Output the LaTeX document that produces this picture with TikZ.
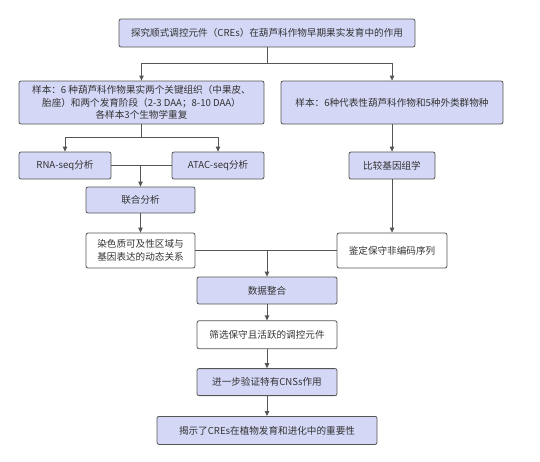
\documentclass[tikz,border=0pt]{standalone}
\usepackage{fontspec}
\setmainfont{Noto Sans CJK SC}
\usepackage{xcolor}
\usetikzlibrary{positioning}
\usetikzlibrary{arrows.meta}
\definecolor{boxfill}{HTML}{D4D7F6}
\definecolor{boxline}{HTML}{555555}
\definecolor{boxtext}{HTML}{333333}
\tikzset{flowbox/.style={draw=boxline, fill=boxfill, line width=0.8pt,
rounded corners=2pt, align=center, inner sep=0pt, text=boxtext,
font=\fontsize{9.6}{12.5}\selectfont},
plainbox/.style={flowbox, fill=white},
flowarr/.style={draw=boxline, line width=0.8pt, -{Triangle[length=5pt,width=4.5pt]}},
flowline/.style={draw=boxline, line width=0.8pt}}

\begin{document}
\begin{tikzpicture}[x=1pt, y=1pt]
				\useasboundingbox (0,0) rectangle (540,-461);

				\node[flowbox, minimum width=296, minimum height=28] (top) at (267,-33) {探究顺式调控元件（CREs）在葫芦科作物早期果实发育中的作用};
				\node[flowbox, minimum width=245, minimum height=43] (sampL) at (141.5,-102.5)
					{样本：6 种葫芦科作物果实两个关键组织（中果皮、\\胎座）和两个发育阶段（2-3 DAA；8-10 DAA）\\各样本3个生物学重复};
				\node[flowbox, minimum width=222, minimum height=43] (sampR) at (392,-102.5) {样本：6种代表性葫芦科作物和5种外类群物种};
				\node[flowbox, minimum width=92, minimum height=27] (rna) at (65,-165.5) {RNA-seq分析};
				\node[flowbox, minimum width=92, minimum height=27] (atac) at (218,-165.5) {ATAC-seq分析};
				\node[flowbox, minimum width=86, minimum height=27] (comp) at (392,-165.5) {比较基因组学};
				\node[flowbox, minimum width=109, minimum height=26] (joint) at (140.5,-200) {联合分析};
				\node[plainbox, minimum width=109, minimum height=35] (chrom) at (140.5,-250.5) {染色质可及性区域与\\基因表达的动态关系};
				\node[plainbox, minimum width=110, minimum height=35] (cons) at (392,-250.5) {鉴定保守非编码序列};
				\node[flowbox, minimum width=140, minimum height=27] (integ) at (267,-290.5) {数据整合};
				\node[plainbox, minimum width=140, minimum height=28, below=16 of integ] (screen) {筛选保守且活跃的调控元件};
				\node[flowbox, minimum width=140, minimum height=27, below=19 of screen] (verify) {进一步验证特有CNSs作用};
				\node[flowbox, minimum width=220, minimum height=28, below=20 of verify] (reveal) {揭示了CREs在植物发育和进化中的重要性};

				% splits and merges
				\coordinate (split1) at (267,-63);
				\coordinate (split2) at (141.5,-137);
				\coordinate (merge1) at (joint |- rna);
				\coordinate (merge2) at (integ |- chrom);

				\draw[flowline] (top) -- (split1);
				\draw[flowarr] (split1) -| (sampL);
				\draw[flowarr] (split1) -| (sampR);
				\draw[flowline] (sampL) -- (split2);
				\draw[flowarr] (split2) -| (rna);
				\draw[flowarr] (split2) -| (atac);
				\draw[flowline] (rna) -- (atac);
				\draw[flowarr] (merge1) -- (joint);
				\draw[flowarr] (joint) -- (chrom);
				\draw[flowarr] (sampR) -- (comp);
				\draw[flowarr] (comp) -- (cons);
				\draw[flowline] (chrom) -- (cons);
				\draw[flowarr] (merge2) -- (integ);
				\draw[flowarr] (integ) -- (screen);
				\draw[flowarr] (screen) -- (verify);
				\draw[flowarr] (verify) -- (reveal);
\end{tikzpicture}
\end{document}
